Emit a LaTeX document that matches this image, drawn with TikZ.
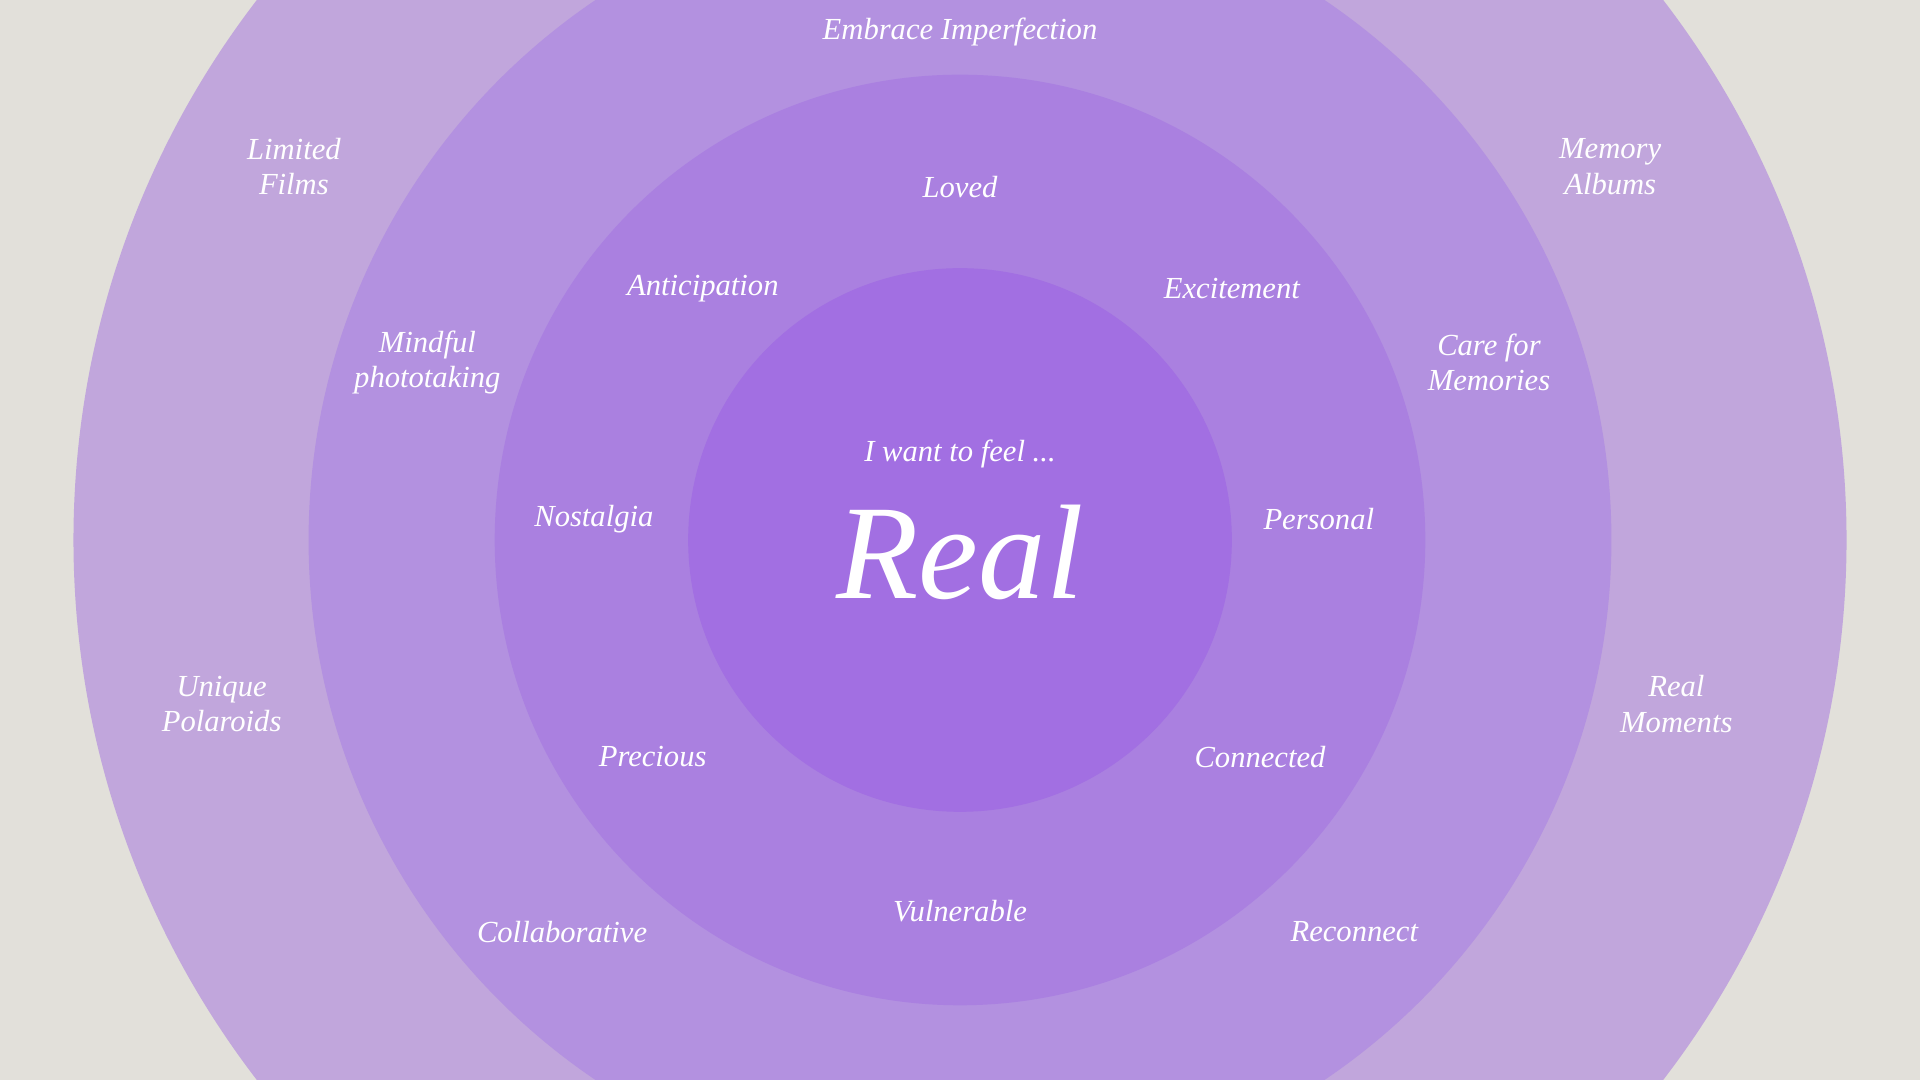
\documentclass[tikz,border=0pt]{standalone}
\usepackage{fontspec}
\setmainfont{Liberation Serif}
\definecolor{bgcol}{HTML}{E2E0DA}
\definecolor{ringa}{HTML}{C1A6DC}
\definecolor{ringb}{HTML}{B391E0}
\definecolor{ringc}{HTML}{AA80E0}
\definecolor{ringd}{HTML}{A26FE2}
\tikzset{
  word/.style={text=white,font=\fontsize{25}{29}\selectfont\itshape,align=center,inner sep=0pt},
  ring/.style={draw=none}
}
\begin{document}
\begin{tikzpicture}[x=1pt,y=1pt]
\fill[bgcol] (0,0) rectangle (1568,882);
\clip (0,0) rectangle (1568,882);
\coordinate (c) at (784,441);
\fill[ringa] (c) circle (724);
\fill[ringb] (c) circle (532);
\fill[ringc] (c) circle (380);
\fill[ringd] (c) circle (222);

% centre
\node[word] (feel) at (784,511) {I want to feel ...};
\node[word,font=\fontsize{110}{120}\selectfont\itshape] (real) at (784,431) {Real};

% inner ring
\node[word] (loved) at (784,729) {Loved};
\node[word] (antic) at (574,646) {Anticipation};
\node[word] (excit) at (1006,646) {Excitement};
\node[word] (nostal) at (485,458) {Nostalgia};
\node[word] (person) at (1077,458) {Personal};
\node[word] (prec) at (533,264) {Precious};
\node[word] (conn) at (1029,264) {Connected};
\node[word] (vuln) at (784,138) {Vulnerable};

% middle ring
\node[word] (embr) at (784,856) {Embrace Imperfection};
\node[word] (mindf) at (349,586) {Mindful\\phototaking};
\node[word] (care) at (1216,586) {Care for\\Memories};
\node[word] (collab) at (459,121) {Collaborative};
\node[word] (recon) at (1106,121) {Reconnect};

% outer ring
\node[word] (films) at (240,746) {Limited\\Films};
\node[word] (albums) at (1315,746) {Memory\\Albums};
\node[word] (polar) at (181,307) {Unique\\Polaroids};
\node[word] (moments) at (1369,307) {Real\\Moments};
\end{tikzpicture}
\end{document}
